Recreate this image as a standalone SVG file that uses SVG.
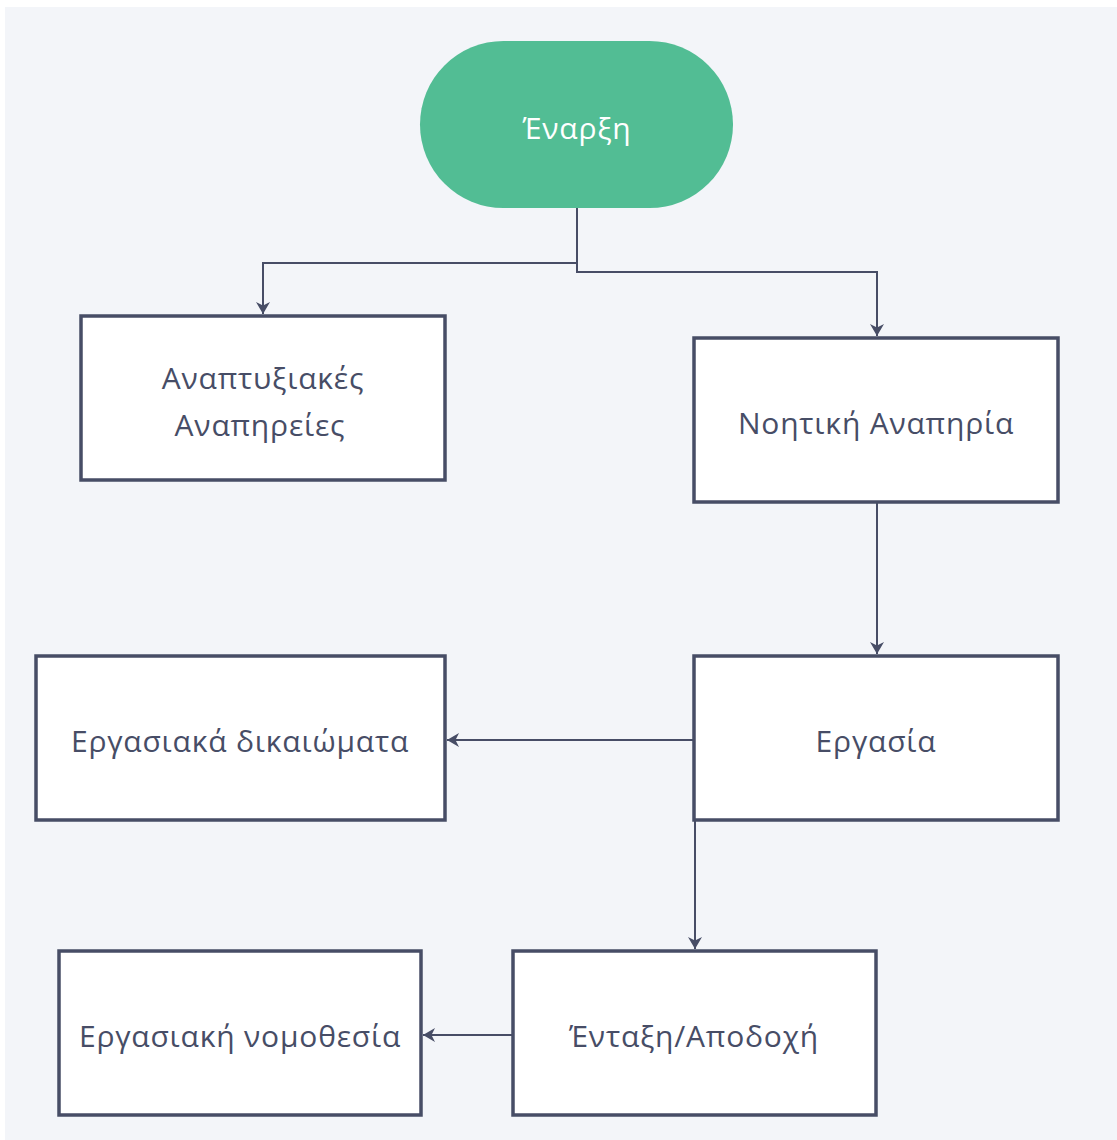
<svg xmlns="http://www.w3.org/2000/svg" width="1117" height="1140" viewBox="0 0 1117 1140">
<style>
.box{fill:#ffffff;stroke:#474d66;stroke-width:3.5}
.t{font-family:"Open Sans","Noto Sans",sans-serif;font-size:30px;letter-spacing:0.8px;fill:#474d66;text-anchor:middle;dominant-baseline:central}
.tw{font-family:"Open Sans","Noto Sans",sans-serif;font-size:30px;letter-spacing:0.8px;fill:#ffffff;text-anchor:middle;dominant-baseline:central}
.c{fill:none;stroke:#474d66;stroke-width:2}
</style>
<defs>
<marker id="arr" markerWidth="14" markerHeight="14" refX="12" refY="7" orient="auto" markerUnits="userSpaceOnUse">
<path d="M0,0 L12,7 L0,14 L3.5,7 Z" fill="#474d66"/>
</marker>
</defs>
<rect x="5" y="7" width="1112" height="1133" fill="#f3f5f9"/>
<g id="connectors">
<path class="c" d="M577,208 V263 H263 V314" marker-end="url(#arr)"/>
<path class="c" d="M577,263 V272 H877 V336" marker-end="url(#arr)"/>
<path class="c" d="M877,502 V654" marker-end="url(#arr)"/>
<path class="c" d="M694,740 H447" marker-end="url(#arr)"/>
<path class="c" d="M695,820 V949" marker-end="url(#arr)"/>
<path class="c" d="M513,1035 H423" marker-end="url(#arr)"/>
</g>
<g id="start">
<rect x="420" y="41" width="313" height="167" rx="83.5" fill="#52bd94"/>
<text class="tw" x="577" y="127">Έναρξη</text>
</g>
<g id="n1">
<rect class="box" x="81" y="316" width="364" height="164"/>
<text class="t" x="263" y="377">Αναπτυξιακές</text>
<text class="t" x="260" y="424">Αναπηρείες</text>
</g>
<g id="n2">
<rect class="box" x="694" y="338" width="364" height="164"/>
<text class="t" x="876" y="422">Νοητική Αναπηρία</text>
</g>
<g id="n3">
<rect class="box" x="694" y="656" width="364" height="164"/>
<text class="t" x="876" y="740">Εργασία</text>
</g>
<g id="n4">
<rect class="box" x="36" y="656" width="409" height="164"/>
<text class="t" x="240" y="740">Εργασιακά δικαιώματα</text>
</g>
<g id="n5">
<rect class="box" x="513" y="951" width="363" height="164"/>
<text class="t" x="694" y="1035">Ένταξη/Αποδοχή</text>
</g>
<g id="n6">
<rect class="box" x="59" y="951" width="362" height="164"/>
<text class="t" x="240" y="1035">Εργασιακή νομοθεσία</text>
</g>
</svg>
